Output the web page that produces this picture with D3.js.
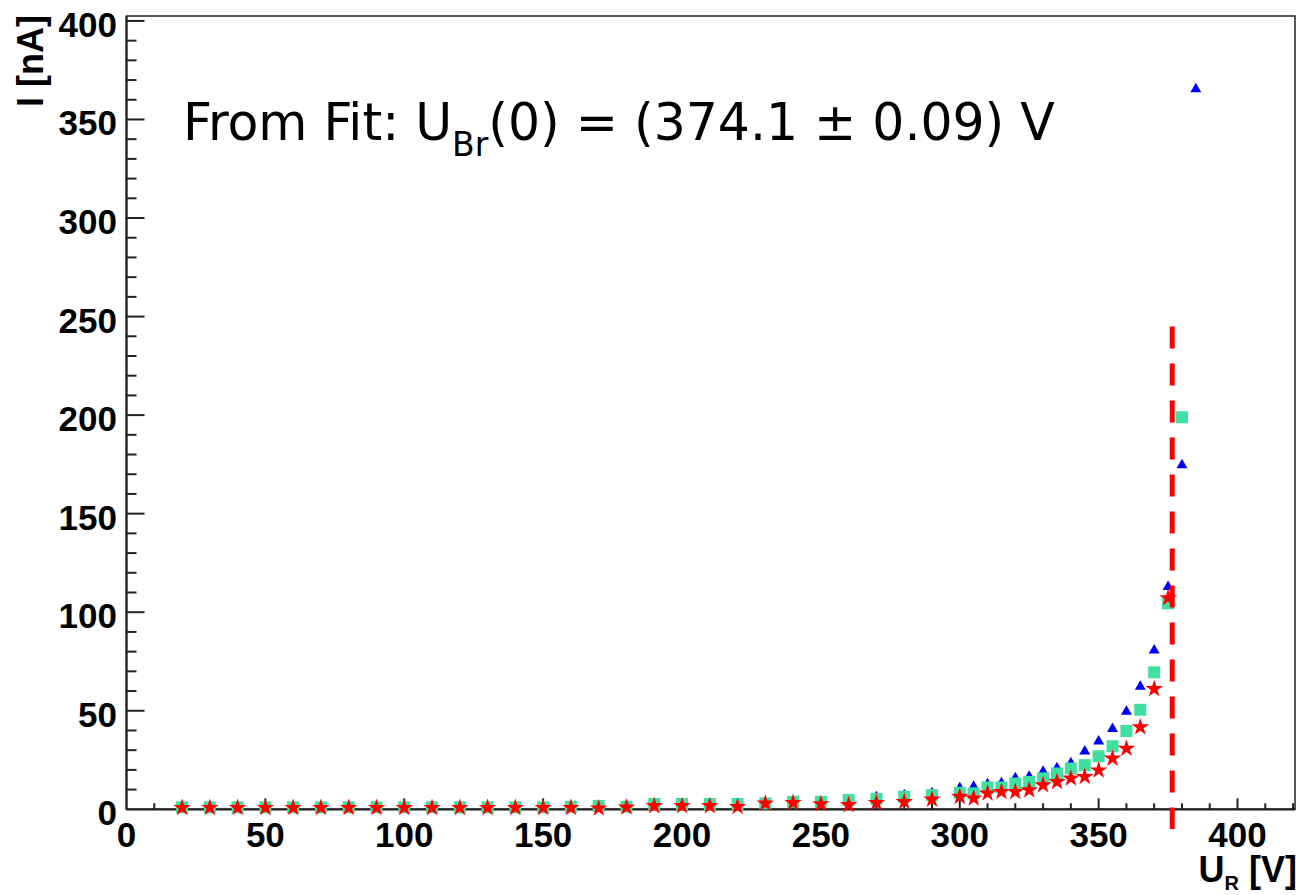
<!DOCTYPE html>
<meta charset="utf-8">
<title>Breakdown voltage</title>
<style>
body { margin: 0; background: #fff; }
.ticklabel { font: bold 35px "Liberation Sans", Arial, sans-serif; fill: #000; }
.axtitle { font: bold 36px "Liberation Sans", Arial, sans-serif; fill: #000; }
.fit { font-family: "DejaVu Sans Condensed", "DejaVu Sans", sans-serif; font-size: 52px; fill: #000; }
</style>
<svg width="1301" height="895"></svg>
<script src="https://d3js.org/d3.v7.min.js"></script>
<script>

// reverse voltage points (V), shared by all three series up to 375 V
var volts = [20, 30, 40, 50, 60, 70, 80, 90, 100, 110, 120, 130, 140, 150, 160, 170, 180, 190, 200,
  210, 220, 230, 240, 250, 260, 270, 280, 290, 300, 305, 310, 315, 320, 325, 330, 335, 340, 345,
  350, 355, 360, 365, 370, 375];

// currents in nA
var blueI = [1.0, 1.0, 1.0, 1.0, 1.0, 1.0, 1.0, 1.0, 1.0, 1.0, 1.0, 1.0, 1.0, 1.0, 1.2, 1.2, 1.2, 2.0, 2.0,
  2.0, 2.0, 2.5, 3.5, 3.5, 4.5, 6.2, 7.2, 8.2, 10.8, 11.5, 12.8, 13.3, 15.8, 16.6, 19.1, 20.9, 23.4, 29.4,
  34.5, 40.8, 49.6, 62.3, 80.7, 112.9];
var greenI = [1.0, 1.0, 1.0, 1.0, 1.0, 1.0, 1.0, 1.0, 1.0, 1.0, 1.0, 1.0, 1.0, 1.0, 1.3, 1.7, 1.3, 2.7, 2.7,
  2.7, 2.7, 3.0, 3.8, 3.8, 4.7, 5.2, 6.4, 7.2, 8.4, 8.1, 11.1, 11.1, 13.1, 13.9, 15.7, 18.2, 20.7, 22.4,
  26.9, 32.0, 39.7, 50.5, 69.5, 104.5];
var redI = [0.8, 0.8, 0.8, 0.8, 0.8, 0.8, 0.8, 0.8, 0.8, 0.8, 0.8, 0.8, 0.8, 0.8, 0.8, 0.5, 1.0, 1.7, 1.7,
  1.7, 1.3, 3.0, 3.3, 2.7, 2.2, 3.3, 3.8, 5.0, 6.4, 5.6, 8.1, 8.9, 8.9, 9.7, 12.3, 13.9, 15.7, 16.5,
  19.8, 25.8, 30.8, 41.7, 61.1, 107.2];

// the last points past the breakdown
var blueExtraU = [380, 385];
var blueExtraI = [174.7, 365.4];
var greenExtraU = [380];
var greenExtraI = [198.9];

// fitted breakdown, dashed marker line
var breakU = 376.5;
var breakLine = [245, -10];

var xTicks = [0, 50, 100, 150, 200, 250, 300, 350, 400];
var yTicks = [0, 50, 100, 150, 200, 250, 300, 350, 400];

var svg = d3.select("svg");

var x = d3.scaleLinear().domain([0, 420.7]).range([126.5, 1295]);
var y = d3.scaleLinear().domain([0, 402.5]).range([809.3, 16]);

//frame box
svg.append("rect")
  .attr("x", x(0)).attr("y", y(402.5))
  .attr("width", x(420.7) - x(0)).attr("height", y(0) - y(402.5))
  .attr("fill", "none").attr("stroke", "#222").attr("stroke-width", 1.5);

//axis lines a bit thicker
svg.append("line").attr("x1", x(0)).attr("x2", x(420.7)).attr("y1", y(0)).attr("y2", y(0))
  .attr("stroke", "#222").attr("stroke-width", 2.2);
svg.append("line").attr("x1", x(0)).attr("x2", x(0)).attr("y1", y(0)).attr("y2", y(402.5))
  .attr("stroke", "#222").attr("stroke-width", 2.2);

// x ticks, major every 50 and minor every 10, pointing up
var xMinor = d3.range(10, 421, 10);
svg.append("g").selectAll("line")
  .data(xMinor)
  .enter().append("line")
  .attr("x1", d => x(d)).attr("x2", d => x(d))
  .attr("y1", y(0))
  .attr("y2", d => d % 50 == 0 ? y(0) - 11 : y(0) - 6)
  .attr("stroke", "#222").attr("stroke-width", 2);

// y ticks, pointing right
var yMinor = d3.range(10, 401, 10);
svg.append("g").selectAll("line")
  .data(yMinor)
  .enter().append("line")
  .attr("y1", d => y(d)).attr("y2", d => y(d))
  .attr("x1", x(0))
  .attr("x2", d => d % 50 == 0 ? x(0) + 18 : x(0) + 10)
  .attr("stroke", "#222").attr("stroke-width", 2);

//tick labels
svg.append("g").selectAll("text")
  .data(xTicks)
  .enter().append("text")
  .attr("class", "ticklabel")
  .attr("x", d => x(d))
  .attr("y", 847)
  .attr("text-anchor", "middle")
  .text(d => d);

svg.append("g").selectAll("text")
  .data(yTicks)
  .enter().append("text")
  .attr("class", "ticklabel")
  .attr("x", 117)
  .attr("y", d => y(d) + 16)
  .attr("text-anchor", "end")
  .text(d => d);

//axis titles
svg.append("text")
  .attr("class", "axtitle")
  .attr("transform", "translate(43,15) rotate(-90)")
  .attr("text-anchor", "end")
  .text("I [nA]");

var xt = svg.append("text")
  .attr("class", "axtitle")
  .attr("x", 1297).attr("y", 882)
  .attr("text-anchor", "end");
xt.append("tspan").text("U");
xt.append("tspan").attr("dy", 8).style("font-size", "20px").text("R");
xt.append("tspan").attr("dy", -8).text(" [V]");

// data points. blue first, then green, then red on top
var pts = function(us, is) { return us.map(function(u, i) { return [u, is[i]]; }); };
var blueData = pts(volts, blueI).concat(pts(blueExtraU, blueExtraI));
var greenData = pts(volts, greenI).concat(pts(greenExtraU, greenExtraI));
var redData = pts(volts, redI);

var tri = d3.symbol().type(d3.symbolTriangle).size(52);
var sq = d3.symbol().type(d3.symbolSquare).size(144);
var star = d3.symbol().type(d3.symbolStar).size(95);

svg.append("g").selectAll("path")
  .data(blueData)
  .enter().append("path")
  .attr("d", tri)
  .attr("transform", d => "translate(" + x(d[0]) + "," + y(d[1]) + ")")
  .attr("fill", "#0000ff");

svg.append("g").selectAll("path")
  .data(greenData)
  .enter().append("path")
  .attr("d", sq)
  .attr("transform", d => "translate(" + x(d[0]) + "," + y(d[1]) + ")")
  .attr("fill", "#40e0a0");

svg.append("g").selectAll("path")
  .data(redData)
  .enter().append("path")
  .attr("d", star)
  .attr("transform", d => "translate(" + x(d[0]) + "," + y(d[1]) + ")")
  .attr("fill", "#ff0000");

//dashed breakdown line
svg.append("line")
  .attr("x1", x(breakU)).attr("x2", x(breakU))
  .attr("y1", y(breakLine[0])).attr("y2", y(breakLine[1]))
  .attr("stroke", "#ff0000").attr("stroke-width", 5)
  .attr("stroke-dasharray", "22,15");

//fit result text, squeezed to the width it has in the original
var fit = svg.append("text")
  .attr("class", "fit")
  .attr("x", 0).attr("y", 0);
fit.append("tspan").text("From Fit: U");
fit.append("tspan").attr("dy", 16).style("font-size", "34px").text("Br");
fit.append("tspan").attr("dy", -16).text("(0) = (374.1 \u00b1 0.09) V");

var bb = fit.node().getBBox();
var sx = 872 / bb.width;
fit.attr("transform", "translate(" + (183 - bb.x * sx) + ",140) scale(" + sx + ",1)");

</script>
